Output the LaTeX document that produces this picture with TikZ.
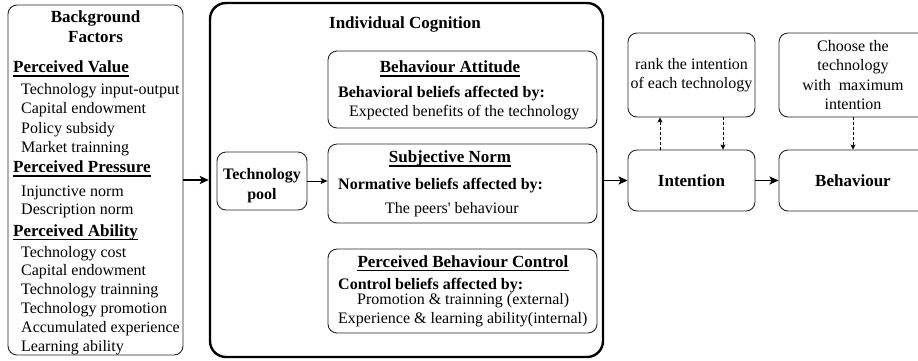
\documentclass[tikz,border=0pt]{standalone}
\usepackage{fontspec}
\setmainfont{Liberation Serif}
\usetikzlibrary{arrows.meta,positioning}

\begin{document}
\begin{tikzpicture}[x=1pt,y=-1pt,>={Stealth[length=9pt,width=8pt,inset=2pt]},
                    box/.style={draw=black!85,line width=0.9pt,rounded corners=9pt},
                    txt/.style={font=\fontsize{16}{19.5}\selectfont,inner sep=0pt},
                    bold/.style={font=\fontsize{16}{19.5}\selectfont\bfseries,inner sep=0pt},
                    head/.style={font=\fontsize{17}{20}\selectfont\bfseries,inner sep=0pt},
                    uline/.style={line width=1.5pt},
                    flow/.style={->,line width=1.8pt},
                    thinflow/.style={-{Stealth[length=7pt,width=6pt,inset=1.5pt]},line width=0.9pt},
                    hint/.style={-{Stealth[length=5pt,width=5pt,inset=1pt]},densely dashed,line width=0.8pt}]

 \clip (0,0) rectangle (918,360);

 % background factors
 \node[box,minimum width=175,minimum height=350] (bg) at (95.5,180) {};
 \node[head,align=center,anchor=north] (bgtitle) at (95.5,10) {Background\\Factors};

 \node[head,anchor=base west] (pv) at (13,72.5) {Perceived Value};
 \draw[uline] ([yshift=-3.5pt]pv.base west) -- ([yshift=-3.5pt]pv.base east);
 \foreach \t [count=\i] in {Technology input-output,Capital endowment,Policy subsidy,Market trainning}
   \node[txt,anchor=base west] (v\i) at (21,94+19.6*\i-19.6) {\t};

 \node[head,anchor=base west] (pp) at (13,172.5) {Perceived Pressure};
 \draw[uline] ([yshift=-3.5pt]pp.base west) -- ([yshift=-3.5pt]pp.base east);
 \foreach \t [count=\i] in {Injunctive norm,Description norm}
   \node[txt,anchor=base west] (p\i) at (21,196+18.5*\i-18.5) {\t};

 \node[head,anchor=base west] (pa) at (13,236) {Perceived Ability};
 \draw[uline] ([yshift=-3.5pt]pa.base west) -- ([yshift=-3.5pt]pa.base east);
 \foreach \t [count=\i] in {Technology cost,Capital endowment,Technology trainning,Technology promotion,Accumulated experience,Learning ability}
   \node[txt,anchor=base west] (a\i) at (21,257+18.8*\i-18.8) {\t};

 % individual cognition
 \node[draw,line width=2.4pt,rounded corners=16pt,minimum width=393,minimum height=354] (cog) at (406.5,180) {};
 \node[head,anchor=base] (cogtitle) at (405,28) {Individual Cognition};

 \node[box,minimum width=90,minimum height=58] (pool) at (262,181) {};
 \node[bold,align=center] (pooltext) at (262,185.5) {Technology\\pool};

 \node[box,minimum width=269,minimum height=77] (att) at (462.5,89.5) {};
 \node[head,anchor=base] (atth) at (450,72.5) {Behaviour Attitude};
 \draw[uline] ([yshift=-3.5pt]atth.base west) -- ([yshift=-3.5pt]atth.base east);
 \node[bold,anchor=base west] (att1) at (338,97) {Behavioral beliefs affected by:};
 \node[txt,anchor=base west] (att2) at (349,116.5) {Expected benefits of the technology};

 \node[box,minimum width=269,minimum height=79] (norm) at (462.5,183.5) {};
 \node[head,anchor=base] (normh) at (450,162.5) {Subjective Norm};
 \draw[uline] ([yshift=-3.5pt]normh.base west) -- ([yshift=-3.5pt]normh.base east);
 \node[bold,anchor=base west] (norm1) at (338,189) {Normative beliefs affected by:};
 \node[txt,anchor=base west] (norm2) at (385,213) {The peers\textquotesingle{} behaviour};

 \node[box,minimum width=269,minimum height=84] (pbc) at (462.5,291) {};
 \node[head,anchor=base] (pbch) at (463,267) {Perceived Behaviour Control};
 \draw[uline] ([yshift=-3.5pt]pbch.base west) -- ([yshift=-3.5pt]pbch.base east);
 \node[bold,anchor=base west] (pbc1) at (338,289) {Control beliefs affected by:};
 \node[txt,anchor=base west] (pbc2) at (357,304) {Promotion \& trainning (external)};
 \node[txt,anchor=base west] (pbc3) at (338,323) {Experience \& learning ability(internal)};

 % intention and behaviour
 \node[box,head,minimum width=127,minimum height=61] (intent) at (691.5,180.5) {Intention};
 \node[box,head,minimum width=148,minimum height=61] (behav) at (853,180.5) {Behaviour};
 \node[box,txt,align=center,minimum width=127,minimum height=84] (rank) at (691.5,75) {rank the intention\\of each technology};
 \node[box,txt,align=center,minimum width=148,minimum height=84] (choose) at (853,75) {Choose the\\technology\\with~ maximum\\intention};

 \draw[flow] (bg.east |- cog.west) -- (cog.west);
 \draw[thinflow] (pool.east) -- (pool.east -| norm.west);
 \draw[flow] (cog.east |- intent.west) -- (intent.west);
 \draw[flow] (intent) -- (behav);
 \draw[hint] ([xshift=-31.5pt]intent.north) -- ([xshift=-31.5pt]rank.south);
 \draw[hint] ([xshift=31.5pt]rank.south) -- ([xshift=31.5pt]intent.north);
 \draw[hint] (choose) -- (behav);

\end{tikzpicture}
\end{document}
